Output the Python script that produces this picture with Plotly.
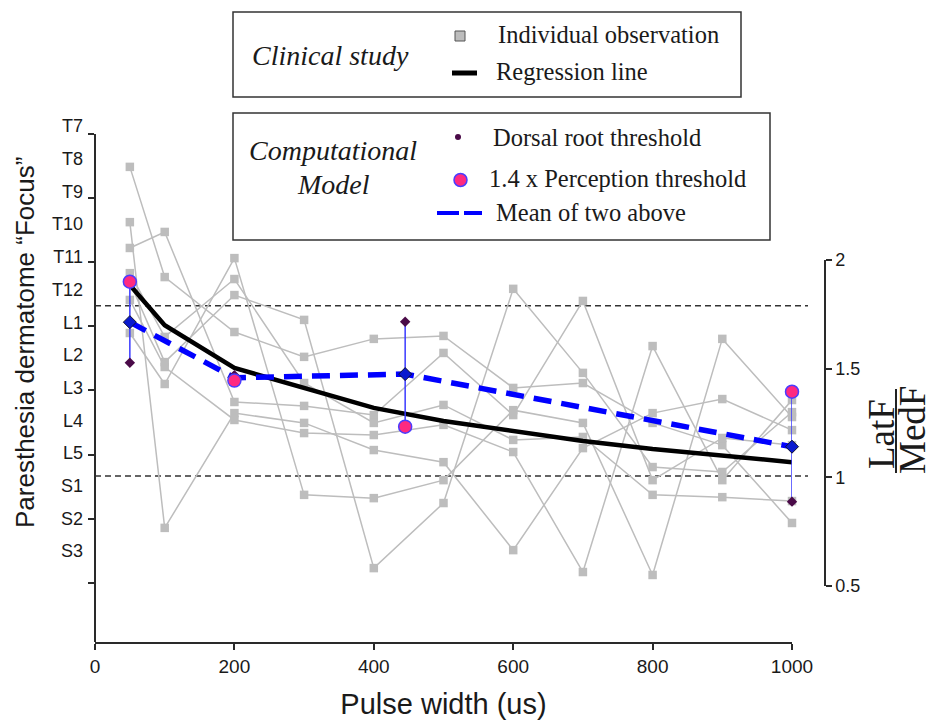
import plotly.graph_objects as go

# ---------------- data ----------------
pulse_width = [50, 100, 200, 300, 400, 500, 600, 700, 800, 900, 1000]

# dermatome labels; numeric level 7 = T7 ... 20 = S3
dermatome_names = ["T7", "T8", "T9", "T10", "T11", "T12",
                   "L1", "L2", "L3", "L4", "L5", "S1", "S2", "S3"]
dermatome_levels = [7, 8, 9, 10, 11, 12, 13, 14, 15, 16, 17, 18, 19, 20]

# clinical study: paresthesia focus (dermatome level) per subject
subject_a = [8.25, 11.62, 13.30, 14.06, 13.51, 13.42, 15.01, 14.86, 16.08, 16.76, 19.14]
subject_b = [9.94, 19.29, 15.78, 16.08, 16.91, 17.28, 19.97, 16.85, 15.78, 15.35, 16.30]
subject_c = [10.73, 10.24, 15.44, 15.56, 15.84, 13.94, 15.84, 12.35, 17.83, 16.54, 16.76]
subject_d = [11.50, 13.45, 11.68, 14.86, 16.08, 15.53, 16.60, 16.51, 18.28, 18.35, 18.47]
subject_e = [11.77, 14.22, 12.17, 12.93, 20.52, 18.53, 11.98, 14.55, 17.43, 17.58, 15.75]
subject_f = [12.32, 14.37, 15.99, 16.39, 16.45, 16.14, 16.97, 20.64, 13.73, 17.83, 15.38]
subject_g = [13.33, 14.89, 11.04, 18.28, 18.38, 17.83, 15.69, 16.08, 20.73, 13.51, 15.90]
subjects = [subject_a, subject_b, subject_c, subject_d, subject_e, subject_f, subject_g]

# regression line of the clinical data (dermatome level)
regression = [11.86, 13.09, 14.40, 15.01, 15.62, 16.02, 16.33, 16.63, 16.88, 17.09, 17.28]

# computational model, LatF / MedF ratio
model_pw = [50, 200, 445, 1000]
dorsal_root = [1.527, 1.470, 1.716, 0.888]
perception_14 = [1.900, 1.445, 1.233, 1.394]
mean_of_two = [1.714, 1.458, 1.475, 1.141]

# dermatome boundaries drawn as dashed reference lines
boundary_levels = [12.5, 17.7]

right_ticks = [0.5, 1, 1.5, 2]
x_ticks = [0, 200, 400, 600, 800, 1000]

# ---------------- layout geometry ----------------
W, H = 936, 720
L, R, T, B = 95, 111, 120, 78
PW, PH = W - L - R, H - T - B


def px(xp):
    return (xp - L) / PW


def py(yp):
    return (H - B - yp) / PH


SANS = "Liberation Sans, Arial, sans-serif"
SERIF = "Liberation Serif, Times New Roman, serif"
AX = "#2a2a2a"
GREY = "#bdbdbd"
TXT = "#1a1a1a"

fig = go.Figure()

# individual observations
for s in subjects:
    fig.add_trace(go.Scatter(
        x=pulse_width, y=s, mode="lines+markers",
        line=dict(color=GREY, width=1.5),
        marker=dict(symbol="square", size=8.5, color=GREY),
        cliponaxis=False, showlegend=False, hoverinfo="skip"))

# regression line
fig.add_trace(go.Scatter(
    x=pulse_width, y=regression, mode="lines",
    line=dict(color="black", width=4.5),
    cliponaxis=False, showlegend=False))

# helper trace so the tick-mark axis is drawn
fig.add_trace(go.Scatter(x=[None], y=[None], yaxis="y3", showlegend=False,
                         hoverinfo="skip"))

# model: connector between the two thresholds
cx, cy = [], []
for xv, a, b in zip(model_pw, dorsal_root, perception_14):
    cx += [xv, xv, None]
    cy += [a, b, None]
fig.add_trace(go.Scatter(
    x=cx, y=cy, yaxis="y2", mode="lines",
    line=dict(color="#3a3aff", width=1.5),
    cliponaxis=False, showlegend=False, hoverinfo="skip"))

fig.add_trace(go.Scatter(
    x=model_pw, y=mean_of_two, yaxis="y2", mode="lines",
    line=dict(color="#0000ff", width=5.5, dash="18px,10px"),
    cliponaxis=False, showlegend=False))

fig.add_trace(go.Scatter(
    x=model_pw, y=mean_of_two, yaxis="y2", mode="markers",
    marker=dict(symbol="diamond", size=10, color="#0a1ad0",
                line=dict(color="#101030", width=1)),
    cliponaxis=False, showlegend=False))

fig.add_trace(go.Scatter(
    x=model_pw, y=dorsal_root, yaxis="y2", mode="markers",
    marker=dict(symbol="diamond", size=8, color="#4a0a48"),
    cliponaxis=False, showlegend=False))

fig.add_trace(go.Scatter(
    x=model_pw, y=perception_14, yaxis="y2", mode="markers",
    marker=dict(symbol="circle", size=13, color="#ff2a80",
                line=dict(color="#4a3cff", width=1.5)),
    cliponaxis=False, showlegend=False))

# ---------------- shapes ----------------
shapes = []
for lv in boundary_levels:
    shapes.append(dict(type="line", xref="paper", yref="y",
                       x0=0, x1=px(808), y0=lv, y1=lv, layer="below",
                       line=dict(color="#333333", width=1.5, dash="6px,4px")))

# legend boxes
for (x0, y0, x1, y1) in [(233, 12, 741, 97), (233, 113, 770, 240)]:
    shapes.append(dict(type="rect", xref="paper", yref="paper",
                       x0=px(x0), x1=px(x1), y0=py(y1), y1=py(y0),
                       fillcolor="white", line=dict(color="#333333", width=1.5)))

# legend keys
shapes.append(dict(type="rect", xref="paper", yref="paper",
                   x0=px(455), x1=px(465), y0=py(41), y1=py(31),
                   fillcolor=GREY, line=dict(color="#555555", width=1)))
shapes.append(dict(type="line", xref="paper", yref="paper",
                   x0=px(452), x1=px(477), y0=py(73), y1=py(73),
                   line=dict(color="black", width=5)))
shapes.append(dict(type="circle", xref="paper", yref="paper",
                   x0=px(455), x1=px(461), y0=py(140), y1=py(134),
                   fillcolor="#4a0a48", line=dict(width=0)))
shapes.append(dict(type="circle", xref="paper", yref="paper",
                   x0=px(454), x1=px(467), y0=py(186.5), y1=py(173.5),
                   fillcolor="#ff2a80", line=dict(color="#4a3cff", width=1.5)))
for (a, b) in [(437, 459), (464, 482)]:
    shapes.append(dict(type="line", xref="paper", yref="paper",
                       x0=px(a), x1=px(b), y0=py(213), y1=py(213),
                       line=dict(color="#0000ff", width=4)))

# fraction bar of the right axis title
shapes.append(dict(type="line", xref="paper", yref="paper",
                   x0=px(896), x1=px(896), y0=py(473), y1=py(389),
                   line=dict(color="#222222", width=2)))

# ---------------- annotations ----------------
ann = []


def text(t, x, y, size, font=SERIF, anchor="left", angle=0):
    ann.append(dict(text=t, xref="paper", yref="paper", x=px(x), y=py(y),
                    xanchor=anchor, yanchor="middle", showarrow=False,
                    textangle=angle, font=dict(family=font, size=size, color=TXT)))


text("<i>Clinical study</i>", 330, 55, 28, anchor="center")
text("Individual observation", 496, 35, 24.5)
text("Regression line", 494, 72, 24.5)
text("<i>Computational</i>", 333, 150, 28, anchor="center")
text("<i>Model</i>", 333, 184, 28, anchor="center")
text("Dorsal root threshold", 491, 137, 24.5)
text("1.4 x Perception threshold", 487, 179, 24.5)
text("Mean of two above", 494, 213, 24.5)
text("Paresthesia dermatome \u201cFocus\u201d", 25, 343, 26, font=SANS,
     anchor="center", angle=-90)
text("LatF", 881, 434, 37, anchor="center", angle=-90)
text("MedF", 912, 430, 37, anchor="center", angle=-90)

# ---------------- axes ----------------
lvl_top = 7 + (T - 126) / 32.7
lvl_bot = 7 + (H - B - 126) / 32.7
tick_top = 134

fig.update_layout(
    width=W, height=H,
    margin=dict(l=L, r=R, t=T, b=B, autoexpand=False),
    paper_bgcolor="white", plot_bgcolor="rgba(0,0,0,0)",
    showlegend=False,
    xaxis=dict(domain=[0, px(792)], range=[0, 1000], tickvals=x_ticks,
               automargin=False,
               ticks="outside", ticklen=6, tickwidth=1.5, tickcolor=AX,
               showline=True, linecolor=AX, linewidth=1.5,
               showgrid=False, zeroline=False,
               tickfont=dict(family=SANS, size=19, color=TXT),
               title=dict(text="Pulse width (us)", standoff=20,
                          font=dict(family=SANS, size=29, color=TXT))),
    yaxis=dict(domain=[0, 1], range=[lvl_bot, lvl_top], automargin=False,
               tickvals=dermatome_levels, ticktext=dermatome_names,
               ticks="", showline=False, showgrid=False, zeroline=False,
               ticklabelstandoff=11,
               tickfont=dict(family=SANS, size=18, color=TXT)),
    yaxis3=dict(domain=[0, py(tick_top)], range=[(H - B - tick_top) / 64.1, 0],
                anchor="free", position=0, tickvals=list(range(8)),
                automargin=False,
                showticklabels=False, ticks="outside", ticklen=6, tickwidth=1.5,
                tickcolor=AX, showline=True, linecolor=AX, linewidth=1.5,
                showgrid=False, zeroline=False),
    yaxis2=dict(domain=[py(586), py(260)], range=[0.5, 2], anchor="free",
                position=1, side="right", tickvals=right_ticks,
                automargin=False,
                ticktext=[str(v) for v in right_ticks],
                ticks="outside", ticklen=6, tickwidth=1.5, tickcolor=AX,
                showline=True, linecolor=AX, linewidth=1.5,
                showgrid=False, zeroline=False,
                tickfont=dict(family=SANS, size=18, color=TXT)),
    shapes=shapes,
    annotations=ann,
)

fig.write_html("out.html")
